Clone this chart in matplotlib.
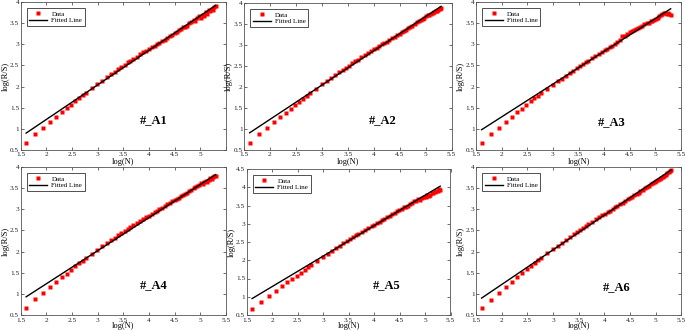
import numpy as np
import matplotlib
matplotlib.use("Agg")
import matplotlib.pyplot as plt

plt.rcParams['font.family'] = ['Liberation Serif', 'DejaVu Serif']

# window sizes N (x axis is log(N))
N = [5, 6, 7, 8, 9, 10, 11, 12, 13, 14, 15, 16,
     18, 20, 22, 24, 26, 28, 30, 32, 34, 36, 38, 40,
     43, 46, 49, 52, 55, 58, 61, 64, 67, 70,
     74, 78, 82, 86, 90, 94, 98, 102, 106, 110,
     115, 120, 125, 130, 135, 140, 145, 150, 155, 160, 165, 170, 175, 180, 185, 190, 195, 200]

A1 = [0.67, 0.87, 1.03, 1.17, 1.29, 1.40, 1.49, 1.57, 1.65, 1.72, 1.79, 1.85,
      1.96, 2.06, 2.14, 2.22, 2.29, 2.35, 2.41, 2.47, 2.52, 2.57, 2.61, 2.65,
      2.71, 2.76, 2.81, 2.85, 2.89, 2.93, 2.97, 3.01, 3.04, 3.08,
      3.11, 3.16, 3.19, 3.23, 3.26, 3.29, 3.33, 3.35, 3.40, 3.42,
      3.44, 3.50, 3.52, 3.57, 3.55, 3.62, 3.66, 3.63, 3.70, 3.68, 3.76, 3.72, 3.80, 3.78, 3.84, 3.82, 3.88, 3.91]
A2 = [0.66, 0.87, 1.03, 1.17, 1.28, 1.39, 1.48, 1.57, 1.65, 1.72, 1.79, 1.85,
      1.96, 2.06, 2.14, 2.21, 2.28, 2.35, 2.41, 2.46, 2.51, 2.56, 2.61, 2.65,
      2.71, 2.76, 2.81, 2.86, 2.90, 2.94, 2.97, 3.02, 3.05, 3.08,
      3.12, 3.16, 3.20, 3.23, 3.27, 3.30, 3.33, 3.36, 3.40, 3.42,
      3.46, 3.50, 3.54, 3.56, 3.60, 3.62, 3.65, 3.68, 3.71, 3.72, 3.75, 3.77, 3.79, 3.80, 3.82, 3.84, 3.86, 3.88]
A3 = [0.66, 0.88, 1.03, 1.17, 1.28, 1.39, 1.48, 1.57, 1.65, 1.72, 1.78, 1.84,
      1.95, 2.04, 2.12, 2.19, 2.26, 2.32, 2.38, 2.43, 2.48, 2.53, 2.57, 2.61,
      2.67, 2.72, 2.77, 2.82, 2.86, 2.90, 2.93, 2.97, 3.01, 3.05,
      3.11, 3.19, 3.20, 3.24, 3.28, 3.31, 3.33, 3.35, 3.38, 3.40,
      3.43, 3.47, 3.50, 3.51, 3.54, 3.56, 3.58, 3.60, 3.63, 3.66, 3.70, 3.72, 3.74, 3.73, 3.72, 3.74, 3.71, 3.70]
A4 = [0.66, 0.87, 1.02, 1.16, 1.28, 1.39, 1.48, 1.57, 1.65, 1.72, 1.78, 1.84,
      1.95, 2.04, 2.12, 2.20, 2.27, 2.33, 2.39, 2.44, 2.49, 2.54, 2.58, 2.62,
      2.67, 2.72, 2.77, 2.81, 2.85, 2.89, 2.93, 2.96, 3.00, 3.03,
      3.07, 3.12, 3.15, 3.19, 3.22, 3.25, 3.27, 3.31, 3.33, 3.36,
      3.39, 3.43, 3.46, 3.50, 3.52, 3.55, 3.58, 3.62, 3.60, 3.65, 3.68, 3.64, 3.70, 3.74, 3.72, 3.77, 3.78, 3.78]
A5 = [0.66, 0.86, 1.02, 1.16, 1.29, 1.40, 1.49, 1.58, 1.66, 1.74, 1.81, 1.87,
      1.99, 2.09, 2.17, 2.25, 2.33, 2.40, 2.46, 2.52, 2.57, 2.63, 2.68, 2.72,
      2.77, 2.83, 2.88, 2.93, 2.97, 3.01, 3.06, 3.10, 3.14, 3.18,
      3.22, 3.27, 3.30, 3.35, 3.37, 3.40, 3.45, 3.47, 3.50, 3.54,
      3.58, 3.61, 3.63, 3.67, 3.66, 3.71, 3.73, 3.72, 3.78, 3.76, 3.80, 3.84, 3.83, 3.87, 3.90, 3.89, 3.94, 3.93]
A6 = [0.66, 0.86, 1.03, 1.17, 1.29, 1.40, 1.50, 1.58, 1.66, 1.73, 1.79, 1.85,
      1.96, 2.06, 2.14, 2.21, 2.28, 2.35, 2.41, 2.47, 2.52, 2.56, 2.61, 2.65,
      2.71, 2.76, 2.81, 2.86, 2.90, 2.93, 2.97, 3.01, 3.05, 3.08,
      3.12, 3.16, 3.19, 3.24, 3.26, 3.29, 3.34, 3.36, 3.38, 3.43,
      3.46, 3.50, 3.52, 3.56, 3.59, 3.62, 3.64, 3.68, 3.70, 3.72, 3.74, 3.76, 3.79, 3.82, 3.85, 3.87, 3.90, 3.93]

series = [A1, A2, A3, A4, A5, A6]
names = ["#_A1", "#_A2", "#_A3", "#_A4", "#_A5", "#_A6"]
# fitted line values at the first and last log(N)
fit_start = [0.90, 0.91, 0.98, 0.93, 0.95, 0.90]
fit_end = [3.92, 3.92, 3.84, 3.82, 4.03, 3.93]
ymax = [4.0, 4.0, 4.0, 4.0, 4.5, 4.0]

xticks = [1.5, 2, 2.5, 3, 3.5, 4, 4.5, 5, 5.5]
xtick_labels = ["1.5", "2", "2.5", "3", "3.5", "4", "4.5", "5", "5.5"]

W, H = 685, 331
fig = plt.figure(figsize=(W / 100, H / 100), dpi=100)

# axes boxes in pixels: left, right, top, bottom
boxes = [(20.5, 226, 2, 150), (244, 451.5, 3, 150), (476, 681, 2, 150),
         (20.5, 226, 167, 315), (246.5, 450.5, 169, 315), (476, 681.5, 167, 315)]
label_pos = [(4.09, 1.20), (4.18, 1.22), (4.14, 1.16), (4.09, 1.20), (4.25, 1.32), (4.24, 1.16)]

x = np.log(N)
for i, (l, r, t, b) in enumerate(boxes):
    ax = fig.add_axes([l / W, (H - b) / H, (r - l) / W, (b - t) / H])
    ax.plot(x, series[i], 's', color='red', ms=2.4, mec='none', label='Data')
    ax.plot([x[0], x[-1]], [fit_start[i], fit_end[i]], '-', color='black', lw=1.0, label='Fitted Line')
    ax.set_xlim(1.5, 5.5)
    ax.set_ylim(0.5, ymax[i])
    ax.set_xticks(xticks)
    labs = list(xtick_labels)
    if i == 0:
        labs[-1] = ""
    ax.set_xticklabels(labs)
    yt = list(np.arange(0.5, ymax[i] + 0.01, 0.5))
    ax.set_yticks(yt)
    ax.set_yticklabels([("%g" % v) for v in yt])
    ax.tick_params(direction='in', length=2, width=0.5, labelsize=5.2,
                   top=True, right=True, colors='#333333', labelcolor='#222222')
    ax.tick_params(axis='x', pad=1.8)
    ax.tick_params(axis='y', pad=1.0)
    for s in ax.spines.values():
        s.set_linewidth(0.6)
        s.set_color('#555555')
    ax.set_xlabel('log(N)', fontsize=6, labelpad=0)
    ax.set_ylabel('log(R/S)', fontsize=6, labelpad=0.5)
    ax.text(label_pos[i][0], label_pos[i][1], names[i], fontsize=9, fontweight='bold',
            ha='center', va='center')
    leg = ax.legend(loc='upper left', fontsize=5, frameon=True, fancybox=False,
                    edgecolor='black', borderpad=0.35, handlelength=2.6, handletextpad=0.6,
                    labelspacing=0.15, borderaxespad=0.9, markerscale=1.0, numpoints=1)
    leg.get_frame().set_linewidth(0.6)

fig.savefig('out.png', dpi=100)
